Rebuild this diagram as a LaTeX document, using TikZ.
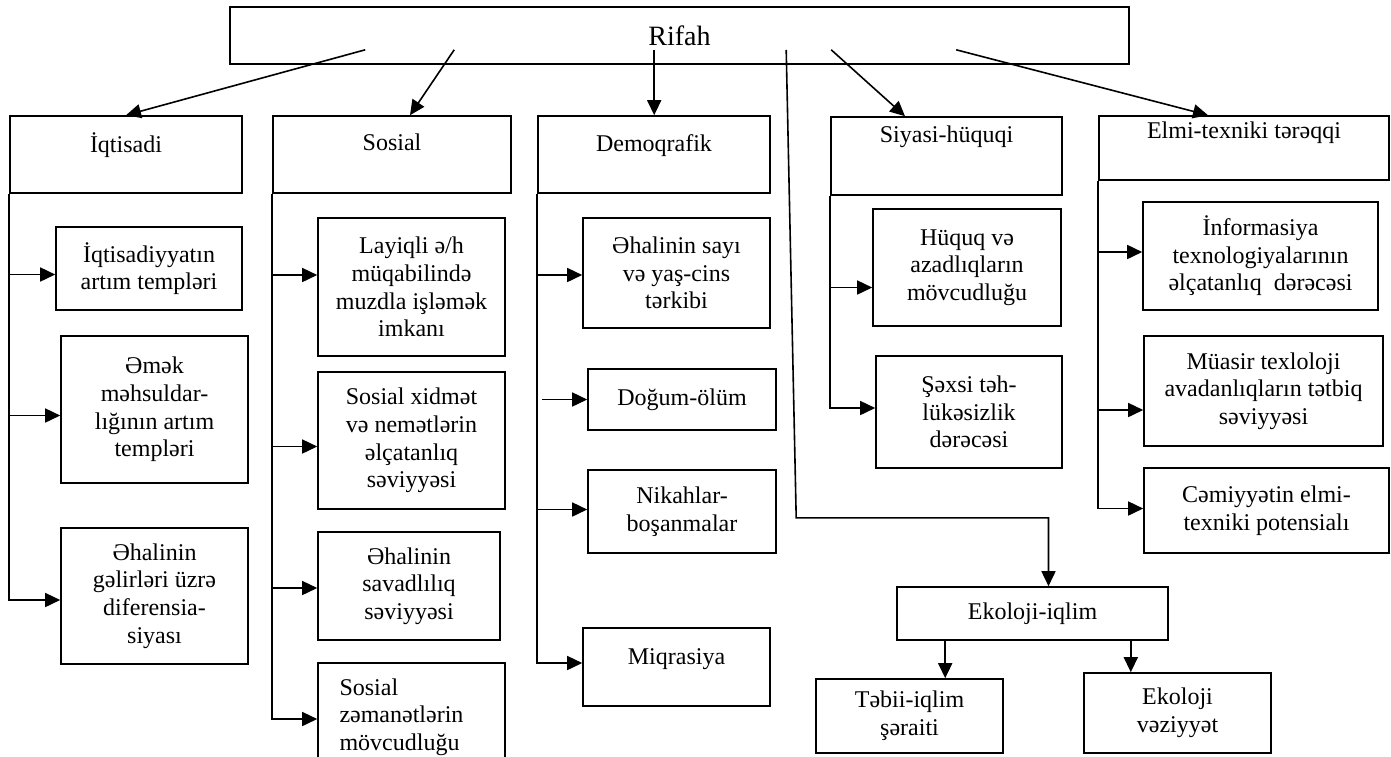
\documentclass[tikz,border=0pt]{standalone}
\usepackage{fontspec}
\setmainfont{Liberation Serif}
\usetikzlibrary{arrows.meta, calc}

\begin{document}
\begin{tikzpicture}[x=0.5pt, y=-0.5pt,
  box/.style={draw, line width=0.8pt, align=center, inner sep=0pt, font=\fontsize{12}{13.8}\selectfont},
  boxsize/.style 2 args={minimum width=#1, minimum height=#2},
  arr/.style={-{Triangle[length=7.5pt, width=7pt]}, line width=0.8pt}, ]

\useasboundingbox (0,0) rectangle (1391,756);

\node (rifah) [box, boxsize={449.5pt}{28.5pt}, font=\fontsize{14}{16}\selectfont] at (679.5,35.5) {Rifah};

\node (iqt) [box, boxsize={116pt}{38.5pt}] at (126,154.5) {İqtisadi\\[-6pt]\strut};
\node (sos) [box, boxsize={119pt}{38.5pt}] at (392,154.5) {Sosial\\[-6pt]\strut};
\node (dem) [box, boxsize={116pt}{38.5pt}] at (654,154.5) {Demoqrafik\\[-6pt]\strut};
\node (siy) [box, boxsize={115.5pt}{39pt}] at (946.5,156) {Siyasi-hüquqi\\[4pt]\strut};
\node (elm) [box, boxsize={145pt}{32pt}] at (1244,148) {Elmi-texniki tərəqqi\\\strut};

\node (iqt1) [box, boxsize={93pt}{41.5pt}] at (149,268.5) {İqtisadiyyatın\\artım templəri};
\node (iqt2) [box, boxsize={93.5pt}{73.5pt}] at (154.5,409.5) {Əmək\\məhsuldar-\\lığının artım\\templəri};
\node (iqt3) [box, boxsize={93.5pt}{68pt}] at (154.5,596) {Əhalinin\\gəlirləri üzrə\\diferensia-\\siyası};

\node (sos1) [box, boxsize={93.5pt}{69pt}] at (411.5,287) {Layiqli ə/h\\müqabilində\\muzdla işləmək\\imkanı};
\node (sos2) [box, boxsize={93.5pt}{68.5pt}] at (411.5,440.5) {Sosial xidmət\\və nemətlərin\\əlçatanlıq\\səviyyəsi};
\node (sos3) [box, boxsize={91pt}{54pt}] at (409,586) {Əhalinin\\savadlılıq\\səviyyəsi};
\node (sos4) [box, boxsize={93.5pt}{54pt}, align=left, text width=72pt, inner xsep=10.5pt] at (411.5,717) {Sosial\\zəmanətlərin\\mövcudluğu};

\node (dem1) [box, boxsize={93.5pt}{55pt}] at (676.5,273) {Əhalinin sayı\\və yaş-cins\\tərkibi};
\node (dem2) [box, boxsize={94pt}{30.5pt}] at (682,399.5) {Doğum-ölüm};
\node (dem3) [box, boxsize={94pt}{41.5pt}] at (682,511.5) {Nikahlar-\\boşanmalar};
\node (dem4) [box, boxsize={93.5pt}{39pt}] at (676.5,667) {Miqrasiya\\[-7pt]\strut};

\node (siy1) [box, boxsize={94pt}{58.5pt}] at (967,267.5) {Hüquq və\\azadlıqların\\mövcudluğu};
\node (siy2) [box, boxsize={93pt}{56pt}] at (969,412) {Şəxsi təh-\\lükəsizlik\\dərəcəsi};

\node (elm1) [box, boxsize={117.5pt}{54pt}] at (1260.5,256) {İnformasiya\\texnologiyalarının\\əlçatanlıq\ \ dərəcəsi};
\node (elm2) [box, boxsize={119.5pt}{55pt}] at (1263.5,391) {Müasir texloloji\\avadanlıqların tətbiq\\səviyyəsi};
\node (elm3) [box, boxsize={122.5pt}{42.5pt}] at (1266.5,510.5) {Cəmiyyətin elmi-\\texniki potensialı};

\node (eko) [box, boxsize={135.5pt}{26.5pt}] at (1032.5,613.5) {Ekoloji-iqlim};
\node (eko1) [box, boxsize={93.5pt}{37pt}] at (909.5,716) {Təbii-iqlim\\şəraiti};
\node (eko2) [box, boxsize={93.5pt}{40pt}] at (1177.5,713) {Ekoloji\\vəziyyət};

% arrows out of Rifah
\coordinate (r1) at ($(rifah.south west)+(68pt,7.5pt)$);
\coordinate (r2) at ($(rifah.south west)+(112.5pt,7.5pt)$);
\coordinate (r3) at ($(rifah.south west)+(212.5pt,7.5pt)$);
\coordinate (r4) at ($(rifah.south west)+(278.5pt,7.5pt)$);
\coordinate (r5) at ($(rifah.south west)+(301pt,7.5pt)$);
\coordinate (r6) at ($(rifah.south west)+(363.5pt,7.5pt)$);
\coordinate (bend) at ($(r4)+(5pt,-234pt)$);

\draw [arr] (r1) -- (iqt.north);
\draw [arr] (r2) -- ([xshift=9pt]sos.north);
\draw [arr] (r3) -- (r3 |- dem.north);
\draw [arr] (r5) -- ([xshift=-20.75pt]siy.north);
\draw [arr] (r6) -- ([xshift=-18pt]elm.north);
\draw [arr] (r4) -- (bend) -| ([xshift=8pt]eko.north);

% columns
\foreach \b/\s in {iqt1/-3, iqt2/-3}
{
  \coordinate (t) at ([yshift=\s pt]\b.west);
  \draw [arr] (iqt.south west |- t) -- (t);
}
\coordinate (t) at ([yshift=-2pt]iqt3.west);
\draw [arr] (iqt.south west) |- (t);

\foreach \b/\s in {sos1/6, sos2/-3, sos3/-1}
{
  \coordinate (t) at ([yshift=\s pt]\b.west);
  \draw [arr] (sos.south west |- t) -- (t);
}
\coordinate (t) at ([yshift=-1pt]sos4.west);
\draw [arr] (sos.south west) |- (t);

\foreach \b/\s in {dem1/-1, dem3/1}
{
  \coordinate (t) at ([yshift=\s pt]\b.west);
  \draw [arr] (dem.south west |- t) -- (t);
}
\draw [arr] ($(dem.south west |- dem2.west)+(2.5pt,0)$) -- (dem2.west);
\coordinate (t) at ([yshift=2pt]dem4.west);
\draw [arr] (dem.south west) |- (t);

\coordinate (t) at ([yshift=-10pt]siy1.west);
\draw [arr] (siy.south west |- t) -- (t);
\coordinate (t) at ([yshift=2pt]siy2.west);
\draw [arr] (siy.south west) |- (t);

\foreach \b/\s in {elm1/2, elm2/-9.5}
{
  \coordinate (t) at ([yshift=\s pt]\b.west);
  \draw [arr] (elm.south west |- t) -- (t);
}
\coordinate (t) at ([yshift=1pt]elm3.west);
\draw [arr] (elm.south west) |- (t);

% Ekoloji-iqlim
\coordinate (e1) at ($(eko.south west)+(24.5pt,0)$);
\coordinate (e2) at ($(eko.south east)+(-19pt,0)$);
\draw [arr] (e1) -- (e1 |- eko1.north);
\draw [arr] (e2) -- (e2 |- eko2.north);

\end{tikzpicture}
\end{document}
